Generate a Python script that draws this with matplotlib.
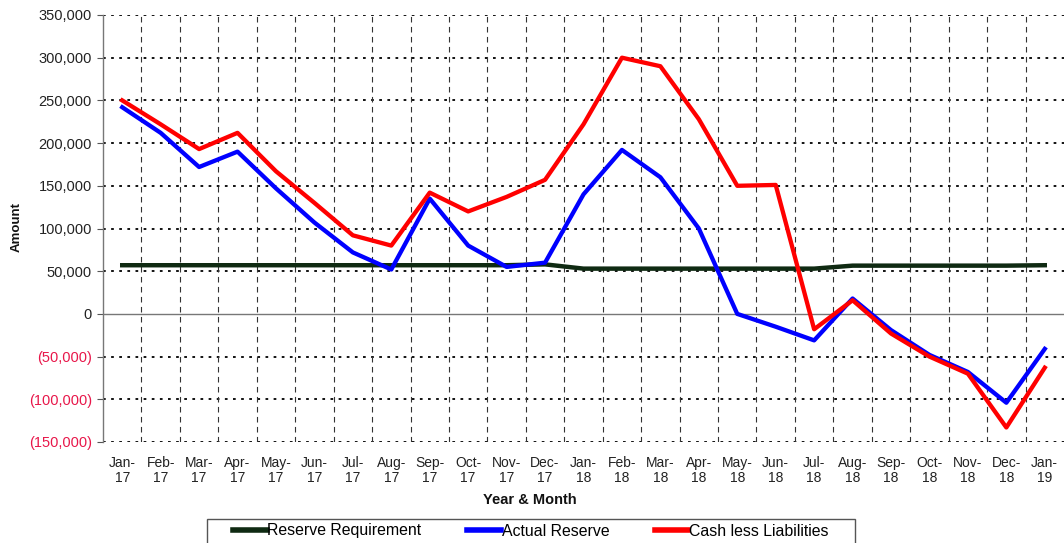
import matplotlib
matplotlib.use("Agg")
import matplotlib.pyplot as plt
from matplotlib.ticker import FuncFormatter, MultipleLocator
from matplotlib.patches import Rectangle
import numpy as np

plt.rcParams['font.family'] = ['Liberation Sans', 'DejaVu Sans']

months = ["Jan-\n17", "Feb-\n17", "Mar-\n17", "Apr-\n17", "May-\n17", "Jun-\n17", "Jul-\n17",
          "Aug-\n17", "Sep-\n17", "Oct-\n17", "Nov-\n17", "Dec-\n17", "Jan-\n18", "Feb-\n18",
          "Mar-\n18", "Apr-\n18", "May-\n18", "Jun-\n18", "Jul-\n18", "Aug-\n18", "Sep-\n18",
          "Oct-\n18", "Nov-\n18", "Dec-\n18", "Jan-\n19"]

reserve_requirement = [57000, 57000, 57000, 57000, 57000, 57000, 57000, 57000, 57000, 57000,
                       57000, 58000, 53000, 53000, 53000, 53000, 53000, 53000, 53000, 56500,
                       56500, 56500, 56500, 56500, 57000]
actual_reserve = [242000, 212000, 172000, 190000, 147000, 107000, 72000, 52000, 135000, 80000,
                  55000, 60000, 140000, 192000, 160000, 100000, 0, -15000, -31000, 18000,
                  -19000, -48000, -68000, -104000, -41000]
cash_less_liabilities = [250000, 222000, 193000, 212000, 167000, 130000, 92000, 80000, 142000, 120000,
                         137000, 157000, 222000, 300000, 290000, 228000, 150000, 151000, -18000, 16000,
                         -23000, -50000, -70000, -133000, -63000]

W, H = 1064, 543
fig = plt.figure(figsize=(W / 100, H / 100), dpi=100)
ax = fig.add_axes([103 / W, 1 - 442 / H, 1 - 103 / W, (442 - 15) / H])

x = np.arange(len(months))
ax.plot(x, reserve_requirement, color='#0f2a12', lw=3.2, label='Reserve Requirement', zorder=3)
ax.plot(x, actual_reserve, color='#0000ff', lw=3.1, label='Actual Reserve', zorder=4)
ax.plot(x, cash_less_liabilities, color='#ff0000', lw=3.1, label='Cash less Liabilities', zorder=5)

ax.set_xlim(-0.5, len(months) - 0.5)
ax.set_ylim(-150000, 350000)
ax.yaxis.set_major_locator(MultipleLocator(50000))


def fmt(v, pos):
    if v < 0:
        return "({:,.0f})".format(-v)
    return "{:,.0f}".format(v)


ax.yaxis.set_major_formatter(FuncFormatter(fmt))

ax.set_xticks(x)
ax.set_xticklabels(months, fontsize=10, color='#222222', linespacing=1.12)
ax.tick_params(axis='x', length=0, pad=10)
ax.tick_params(axis='y', length=4, width=0.8, color='#555555', labelsize=10.5,
               labelcolor='#222222', pad=4)

# grid
for yv in range(-150000, 350001, 50000):
    if yv == 0:
        ax.axhline(0, color='#777777', lw=1.0, zorder=1)
    else:
        ax.axhline(yv, color='black', lw=1.3, ls=(0, (1.5, 3)), zorder=1)
for xv in np.arange(0.5, len(months) - 0.5, 1):
    ax.axvline(xv, color='#333333', lw=0.8, ls=(0, (5, 4)), zorder=1)

for s in ['top', 'right', 'bottom']:
    ax.spines[s].set_visible(False)
ax.spines['left'].set_color('#777777')
ax.spines['left'].set_linewidth(1.0)

fig.canvas.draw()
for lbl in ax.get_yticklabels():
    if lbl.get_text().startswith('('):
        lbl.set_color('#e8174a')

fig.text(17 / W, 1 - 227 / H, 'Amount', fontsize=9.5, fontweight='bold', rotation=90,
         ha='center', va='center', color='#111111')
fig.text(530 / W, 1 - 500 / H, 'Year & Month', fontsize=10.5, fontweight='bold',
         ha='center', va='center', color='#111111')

leg = fig.legend(loc='center', bbox_to_anchor=(531 / W, 1 - 531 / H), ncol=3, fontsize=11.4,
                 frameon=False, handlelength=2.1, handletextpad=0.05, columnspacing=2.9,
                 borderpad=0.3)
for h in leg.get_lines():
    h.set_linewidth(4)

fig.patches.append(Rectangle((207 / W, 1 - 546 / H), (855 - 207) / W, (546 - 519) / H,
                             transform=fig.transFigure, fill=False, edgecolor='#555555',
                             linewidth=1.0))

fig.savefig('out.png', dpi=100)
